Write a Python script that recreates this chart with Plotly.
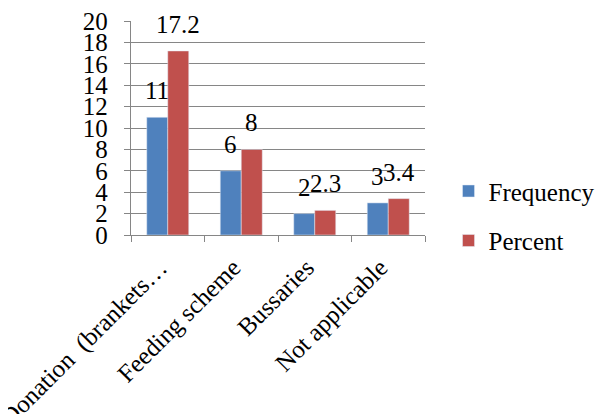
import plotly.graph_objects as go

categories = ["Donation\u00a0 (brankets…", "Feeding scheme", "Bussaries", "Not applicable"]
frequency = [11, 6, 2, 3]
percent = [17.2, 8, 2.3, 3.4]
freq_labels = ["11", "6", "2", "3"]
pct_labels = ["17.2", "8", "2.3", "3.4"]

BLUE = "#4F81BD"
RED = "#C0504D"
GRID = "#868686"
FONT = "Liberation Serif"
FS = 25

fig = go.Figure()
fig.add_trace(go.Bar(x=categories, y=frequency, name="Frequency", marker_color=BLUE,
                     legendgroup="f"))
fig.add_trace(go.Bar(x=categories, y=percent, name="Percent", marker_color=RED,
                     legendgroup="p"))

# data labels above each bar
bar_half = 10.5
for c, v, t in zip(categories, frequency, freq_labels):
    fig.add_annotation(x=c, y=v, text=t, showarrow=False, xshift=-bar_half, yshift=11,
                       yanchor="bottom", font=dict(size=FS, color="black", family=FONT))
for c, v, t in zip(categories, percent, pct_labels):
    fig.add_annotation(x=c, y=v, text=t, showarrow=False, xshift=bar_half, yshift=11,
                       yanchor="bottom", font=dict(size=FS, color="black", family=FONT))

fig.update_layout(
    width=600, height=406,
    margin=dict(l=123, r=183, t=13, b=179, autoexpand=False),
    paper_bgcolor="white", plot_bgcolor="white",
    font=dict(family=FONT, size=FS, color="black"),
    barmode="group", bargap=0.4286, bargroupgap=0,
    legend=dict(x=1.08, y=0.09, xanchor="left", yanchor="middle",
                traceorder="grouped", tracegroupgap=14,
                font=dict(size=FS, family=FONT, color="black")),
    showlegend=True,
)
fig.update_xaxes(type="category", showline=True, linecolor=GRID, linewidth=1.3,
                 ticks="outside", tickson="boundaries", ticklen=6, tickcolor=GRID,
                 tickwidth=1.3, tickangle=-45, showgrid=False, automargin=False,
                 ticklabelstandoff=7, ticklabelshift=-8, ticklabeloverflow="allow",
                 tickfont=dict(size=FS, family=FONT))
fig.update_yaxes(range=[0, 20], dtick=2, showgrid=True, gridcolor=GRID, gridwidth=1.3,
                 showline=True, linecolor=GRID, linewidth=1.3, ticks="outside",
                 ticklen=6, tickcolor=GRID, tickwidth=1.3, ticklabelstandoff=11,
                 ticklabeloverflow="allow",
                 zeroline=False, automargin=False, tickfont=dict(size=FS, family=FONT))

fig.write_html("out.html")
